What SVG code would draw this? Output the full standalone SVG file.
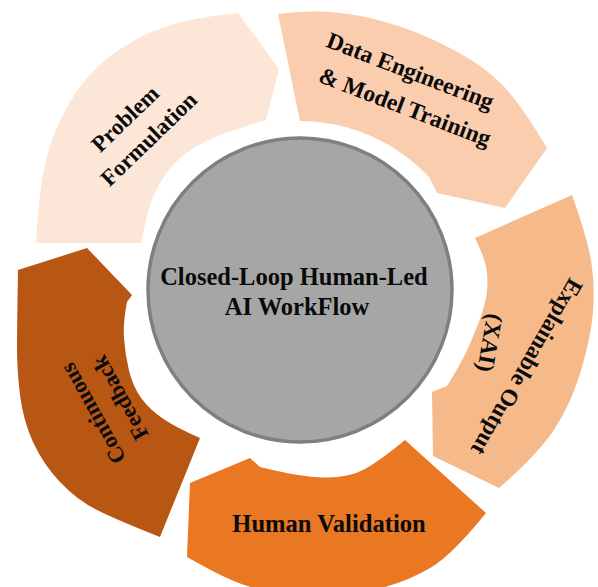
<svg xmlns="http://www.w3.org/2000/svg" width="598" height="587" viewBox="0 0 598 587">
  <style>
    .lbl { font-family: "Liberation Serif", "Times New Roman", serif; font-weight: bold; fill: #0a0a0a; }
    .seg { stroke: none; }
  </style>
  <rect width="598" height="587" fill="#ffffff"/>

  <g id="connectors">
    <!-- Problem Formulation: arc from the left side up to the top, arrowhead pointing right -->
    <path id="arrow-problem" class="seg" fill="#FCE6D7"
      d="M36,243 Q39,190 45.5,162.5 Q52,135 64.5,111.5 Q77,88 93.5,71 Q110,54 132.5,41.5 Q155,29 177.5,23 Q200,17 238,13
         L279,69 L266,120
         Q233,130 216.5,136.5 Q200,143 186.5,153 Q173,163 165,175 Q157,187 152,200 Q147,213 141,243 Z"/>
    <!-- Data Engineering & Model Training: top to upper right -->
    <path id="arrow-data" class="seg" fill="#F9CDAE"
      d="M278,14 Q298,11 319,11.5 Q340,12 360.5,16 Q381,20 405.5,28.5 Q430,37 457.5,52 Q485,67 502.5,85 Q520,103 547,148
         L505,208 L437,193 L429,177 A178,178 0 0 0 300,121 Z"/>
    <!-- Explainable Output (XAI): right side, heading down -->
    <path id="arrow-xai" class="seg" fill="#F5B98A"
      d="M475,238 L572,195 Q588,240 591.5,263.5 Q595,287 593,312 Q591,337 581,370.5 Q571,404 554.5,429 Q538,454 499,488
         L433,456 L432,392 L447,386
         Q462,362 469,346 Q476,330 480.5,317.5 Q485,305 486.5,295 Q488,285 487,272.5 Q486,260 475,238 Z"/>
    <!-- Human Validation: bottom, heading left -->
    <path id="arrow-human" class="seg" fill="#EA7722"
      d="M405,440 L486,513 Q452,555 431,567.5 Q410,580 385,587 Q360,594 330,596 Q300,598 275,593 Q250,588 232.5,580.5 Q215,573 187,557
         L190,483 L250,458 L260,467
         Q300,477 324.5,477.5 Q349,478 365,469 Q381,460 405,440 Z"/>
    <!-- Continuous Feedback: lower left, heading up -->
    <path id="arrow-feedback" class="seg" fill="#B85614"
      d="M200,438 L160,537 Q117,520 97,510 Q77,500 60,482 Q43,464 33,442 Q23,420 20,395 Q17,370 17,348.5 Q17,327 18,270
         L87,248 L132,295 L127,302
         Q123,322 124,338 Q125,354 129,370.5 Q133,387 141.5,398.5 Q150,410 163.5,419 Q177,428 200,438 Z"/>
  </g>

  <g id="node-center">
    <circle cx="300" cy="290" r="152" fill="#A6A6A6" stroke="#7F7F7F" stroke-width="3.5"/>
    <text class="lbl" font-size="24.5" text-anchor="middle">
      <tspan x="297" y="285">Closed-Loop Human-Led</tspan>
      <tspan x="297" y="315">AI WorkFlow</tspan>
    </text>
  </g>

  <g id="node-problem">
    <text class="lbl" font-size="23" text-anchor="middle" transform="translate(138,128) rotate(-44)">
      <tspan x="0" y="-8">Problem</tspan>
      <tspan x="0" y="23">Formulation</tspan>
    </text>
  </g>

  <g id="node-data">
    <text class="lbl" font-size="23.5" text-anchor="middle" transform="translate(409,89.5) rotate(21)">
      <tspan x="-2.5" y="-10">Data Engineering</tspan>
      <tspan x="2.5" y="25.5">&amp; Model Training</tspan>
    </text>
  </g>

  <g id="node-xai">
    <text class="lbl" font-size="23.5" text-anchor="middle" transform="translate(527,367) rotate(120)">
      <tspan x="0" y="7.8">Explainable Output</tspan>
    </text>
    <text class="lbl" font-size="23.5" text-anchor="middle" transform="translate(490,343) rotate(100)">
      <tspan x="0" y="7.8">(XAI)</tspan>
    </text>
  </g>

  <g id="node-human">
    <text class="lbl" font-size="24.6" text-anchor="middle" x="329" y="532">Human Validation</text>
  </g>

  <g id="node-feedback">
    <text class="lbl" font-size="22.5" text-anchor="middle" transform="translate(105.8,404.5) rotate(-119)">
      <tspan x="1.2" y="-8">Continuous</tspan>
      <tspan x="-1.2" y="23.2">Feedback</tspan>
    </text>
  </g>
</svg>
